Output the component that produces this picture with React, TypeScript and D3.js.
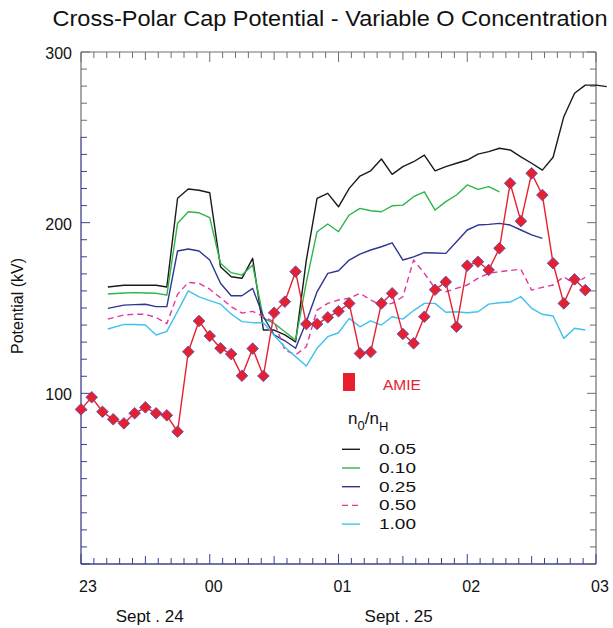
import React from "react";
import * as d3 from "d3";

const title = "Cross-Polar Cap Potential - Variable O Concentration";
const yAxisLabel = "Potential (kV)";
const yTickValues = [100, 200, 300];
const xHourMinutes = [0, 60, 120, 180, 240];
const xHourLabels = ["23", "00", "01", "02", "03"];
const dateLabels = ["Sept . 24", "Sept . 25"];
const dateLabelMinutes = [32, 148];

// AMIE: every 5 minutes from 23:00
const amieValues = [
  90.6, 97.7, 89.2, 84.8, 82.4, 88.3, 91.8, 88.3, 87.1, 77.5,
  124.4, 142.4, 133.6, 126.4, 123.0, 110.3, 126.2, 110.2, 147.2, 153.7,
  171.3, 140.6, 140.6, 144.5, 148.1, 152.7, 123.4, 124.2, 152.7, 158.6,
  134.8, 129.3, 144.9, 160.7, 165.3, 139.0, 174.8, 177.1, 172.3, 185.0,
  223.1, 200.9, 228.9, 216.2, 176.2, 152.7, 166.8, 160.5,
];

// model output times (minutes after 23:00)
const modelMinutes = [12.5, ...d3.range(20, 250, 5)];

const n005 = [162.3, 163.3, 163.3, 163.3, 163.3, 162.3, 214.3, 219.7, 219, 217.5, 174.2, 168.3, 167.4, 179.1, 137.1, 137.1, 134.2, 130.2, 178, 214.3, 217.2, 209.3, 220.1, 227.3, 230.4, 237.3, 228.3, 232.8, 235.7, 239.6, 230.4, 232.8, 234.8, 236.7, 240.2, 241.6, 243.6, 242.6, 238.6, 234.8, 230.8, 238.3, 262.1, 275.8, 280.6, 280.6, 279.7];
const n010 = [158.2, 158.8, 159, 158.8, 158.6, 157.6, 199.6, 206.4, 205.8, 203, 176.2, 170.7, 169.3, 175.2, 144, 141, 136.1, 131.2, 165, 194.7, 199.2, 194.7, 204.5, 208.4, 207, 206.4, 209.9, 210.3, 215.2, 218.1, 207.4, 212.3, 216.2, 222.1, 219.5, 221.1, 218];
const n025 = [149.8, 151.7, 152, 152.2, 150.8, 150.8, 183.4, 184.6, 183.4, 178.1, 164.5, 157.2, 157.2, 161.5, 144.9, 134.2, 130.8, 126.4, 142, 159.5, 170.3, 171.8, 178.1, 181.6, 184, 185.9, 188.2, 178.1, 180, 182.4, 182.2, 182, 188.8, 195.7, 198.6, 199, 199.6, 198.6, 195.7, 192.8, 190.8];
const n050 = [143.5, 145.9, 146.3, 146.3, 144.5, 140.8, 158, 165, 164.5, 161, 156, 150.8, 147, 148, 144.9, 142, 125.4, 122.5, 127.3, 148.8, 152.7, 154.7, 155.7, 158.6, 154.7, 151.7, 152.7, 156.6, 178.1, 170.3, 161.5, 159.5, 161.5, 163.5, 167.4, 170.3, 171.3, 172, 172.7, 160.5, 162.1, 163.5, 168.3, 164, 168];
const n100 = [137.7, 140.4, 140.3, 140, 134.2, 136.3, 148, 160, 156.5, 154.3, 152.3, 146.5, 142, 141.4, 141.4, 134, 127, 121.5, 116, 126.4, 133.2, 135.5, 143.9, 139, 142.5, 140, 144.9, 143.5, 148.5, 152.7, 152.7, 147.5, 147.8, 147.2, 147.8, 152.3, 153.1, 153.5, 156.6, 149.8, 146.3, 145.3, 132.2, 138.1, 137.1];

const legendLabels = ["0.05", "0.10", "0.25", "0.50", "1.00"];
const seriesValues = [n005, n010, n025, n050, n100];
const seriesColors = ["#1a1a1a", "#2db54a", "#2e3592", "#e2379b", "#3fc2ee"];
const seriesDash = [null, null, null, "6,4", null];

const FONT = "'Liberation Sans', Arial, Helvetica, sans-serif";

export default function App() {
  const W = 613, H = 628;
  const x0 = 81, x1 = 596, yTop = 52, yBot = 564;
  const x = d3.scaleLinear().domain([0, 240]).range([x0, x1]);
  const y = d3.scaleLinear().domain([0, 300]).range([yBot, yTop]);

  const line = d3
    .line<[number, number | null]>()
    .defined((d) => d[1] != null)
    .x((d) => x(d[0]))
    .y((d) => y(d[1] as number));

  const amiePts: [number, number][] = amieValues.map((v, i) => [i * 5, v]);

  const navy = "#3f3f8c";
  const gray = "#6e6e6e";

  const minuteTicks = d3.range(0, 241, 6);
  const yMinor = d3.range(0, 301, 10);

  const diamondPath = (cx: number, cy: number, r: number) =>
    `M${cx},${cy - r}L${cx + r},${cy}L${cx},${cy + r}L${cx - r},${cy}Z`;

  const grayLimit = 137;

  return (
    <svg
      width={W}
      height={H}
      style={{ position: "absolute", left: 0, top: 0, background: "#fff" }}
      fontFamily={FONT}
    >
      <rect x={0} y={0} width={W} height={H} fill="#fff" />
      <text x={330} y={26} fontSize={22.5} textAnchor="middle" fill="#111" textLength={555} lengthAdjust="spacingAndGlyphs">
        {title}
      </text>

      {/* axes frame */}
      <line x1={x0} x2={x1} y1={yTop} y2={yTop} stroke={gray} strokeWidth={1.2} />
      <line x1={x1} x2={x1} y1={yTop} y2={yBot} stroke={gray} strokeWidth={1.2} />
      <line x1={x0} x2={x0} y1={yTop} y2={grayLimit} stroke={gray} strokeWidth={1.2} />
      <line x1={x0} x2={x0} y1={grayLimit} y2={yBot} stroke={navy} strokeWidth={1.3} />
      <line x1={x0} x2={x1} y1={yBot} y2={yBot} stroke={navy} strokeWidth={1.3} />

      {/* y ticks */}
      {yMinor.map((v) => {
        const len = v % 100 === 0 ? 9 : 6;
        const yy = y(v);
        return (
          <g key={"yt" + v}>
            <line x1={x0} x2={x0 + len} y1={yy} y2={yy} stroke={yy < grayLimit ? gray : navy} strokeWidth={1} />
            <line x1={x1} x2={x1 - len} y1={yy} y2={yy} stroke={gray} strokeWidth={1} />
          </g>
        );
      })}
      {/* x ticks */}
      {minuteTicks.map((m) => {
        const len = m % 60 === 0 ? 10 : m % 30 === 0 ? 8 : 6;
        const xx = x(m);
        return (
          <g key={"xt" + m}>
            <line x1={xx} x2={xx} y1={yBot} y2={yBot - len} stroke={navy} strokeWidth={1} />
            <line x1={xx} x2={xx} y1={yTop} y2={yTop + len} stroke={gray} strokeWidth={1} />
          </g>
        );
      })}

      {/* y tick labels */}
      {yTickValues.map((v) => (
        <text key={"yl" + v} x={72} y={y(v) + 7} fontSize={16} textAnchor="end" fill="#111">
          {v}
        </text>
      ))}
      {/* x tick labels */}
      {xHourMinutes.map((m, i) => (
        <text key={"xl" + m} x={x(m) + (i === 0 ? 7 : 4)} y={592} fontSize={16} textAnchor="middle" fill="#111">
          {xHourLabels[i]}
        </text>
      ))}
      {dateLabels.map((t, i) => (
        <text key={"dl" + i} x={x(dateLabelMinutes[i])} y={622} fontSize={17} textAnchor="middle" fill="#111">
          {t}
        </text>
      ))}
      <text
        transform={`translate(23,306) rotate(-90)`}
        fontSize={16}
        textAnchor="middle"
        fill="#111"
      >
        {yAxisLabel}
      </text>

      {/* model lines */}
      {seriesValues.map((vals, si) => {
        const pts: [number, number | null][] = vals.map((v, i) => [modelMinutes[i], v]);
        return (
          <path
            key={"s" + si}
            d={line(pts) || ""}
            fill="none"
            stroke={seriesColors[si]}
            strokeWidth={1.4}
            strokeDasharray={seriesDash[si] || undefined}
            strokeLinejoin="round"
          />
        );
      })}

      {/* AMIE */}
      <path d={line(amiePts) || ""} fill="none" stroke="#e8202e" strokeWidth={1.4} />
      {amiePts.map((p, i) => (
        <path
          key={"d" + i}
          d={diamondPath(x(p[0]), y(p[1]), 5.8)}
          fill="#e8202e"
          stroke="#5b52b5"
          strokeWidth={0.9}
        />
      ))}

      {/* legend */}
      <rect x={343} y={373} width={12} height={18} fill="#e8202e" />
      <text x={383} y={390} fontSize={15.5} fill="#e8202e">AMIE</text>

      <text x={348} y={424} fontSize={17} fill="#111">
        n
        <tspan fontSize={13} dy={6}>0</tspan>
        <tspan fontSize={17} dy={-6}>/n</tspan>
        <tspan fontSize={13} dy={7}>H</tspan>
      </text>

      {legendLabels.map((lab, i) => {
        const ly = 449.3 + i * 18.7;
        return (
          <g key={"lg" + i}>
            <line
              x1={342}
              x2={360}
              y1={ly}
              y2={ly}
              stroke={seriesColors[i]}
              strokeWidth={1.4}
              strokeDasharray={seriesDash[i] || undefined}
            />
            <text x={379} y={ly + 4.8} fontSize={15} fill="#111" textLength={37} lengthAdjust="spacingAndGlyphs">
              {lab}
            </text>
          </g>
        );
      })}
    </svg>
  );
}
